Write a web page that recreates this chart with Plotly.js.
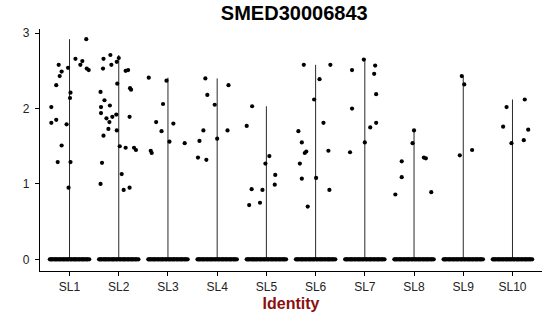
<!DOCTYPE html>
<html>
<head>
<meta charset="utf-8">
<script src="https://cdn.plot.ly/plotly-3.0.1.min.js"></script>
<style>html,body{margin:0;padding:0;background:#fff;}#chart{width:550px;height:316px;}</style>
</head>
<body>
<div id="chart"></div>
<script>
// Categories
const categories = ["SL1","SL2","SL3","SL4","SL5","SL6","SL7","SL8","SL9","SL10"];

// Non-zero expression values per identity with their jitter offsets
const SL1_vals = [2.02,1.81,1.85,1.29,2.31,2.58,2.43,2.49,1.51,1.79,2.54,0.95,2.21,2.14,1.29,2.66,2.58,2.63,2.92,2.53,2.51];
const SL1_jit  = [-0.37,-0.37,-0.27,-0.24,-0.27,-0.22,-0.20,-0.16,-0.16,-0.06,-0.03,-0.02,0.02,0.01,0.02,0.12,0.22,0.26,0.34,0.35,0.39];
const SL2_vals = [2.22,2.02,1.94,2.11,1.00,1.28,1.64,2.53,2.66,1.87,1.73,1.82,2.04,2.71,2.58,1.89,1.92,1.71,2.62,2.33,2.67,1.50,1.13,0.92,1.48,2.50,2.51,1.89,0.95,2.27,2.25,1.48,1.45];
const SL2_jit  = [-0.37,-0.36,-0.36,-0.29,-0.37,-0.34,-0.31,-0.32,-0.31,-0.25,-0.21,-0.19,-0.18,-0.17,-0.15,-0.13,-0.05,-0.04,-0.04,-0.03,0.00,0.02,0.06,0.10,0.14,0.14,0.19,0.22,0.22,0.23,0.25,0.31,0.35];
const SL3_vals = [2.41,1.44,1.41,1.82,1.70,2.06,2.37,1.56,1.80,1.54];
const SL3_jit  = [-0.39,-0.35,-0.33,-0.24,-0.13,-0.10,-0.03,0.03,0.11,0.34];
const SL4_vals = [1.35,1.57,1.71,2.40,1.32,2.18,2.05,1.60,1.71,2.31];
const SL4_jit  = [-0.39,-0.36,-0.28,-0.24,-0.22,-0.20,-0.05,0.00,0.21,0.23];
const SL5_vals = [1.77,2.03,0.72,0.93,0.75,0.92,1.27,1.37,1.12,0.99];
const SL5_jit  = [-0.40,-0.29,-0.35,-0.30,-0.13,-0.08,-0.02,0.06,0.18,0.17];
const SL6_vals = [1.70,1.55,1.27,1.07,2.58,1.41,1.43,0.70,2.12,1.08,2.39,1.81,1.44,0.92,2.58];
const SL6_jit  = [-0.35,-0.28,-0.32,-0.28,-0.24,-0.22,-0.19,-0.16,-0.03,0.01,0.08,0.16,0.26,0.28,0.30];
const SL7_vals = [1.42,2.00,2.51,2.65,1.55,1.75,2.46,2.57,2.19,1.81];
const SL7_jit  = [-0.30,-0.26,-0.26,-0.02,0.00,0.11,0.19,0.21,0.23,0.23];
const SL8_vals = [0.86,1.09,1.30,1.54,1.71,1.35,1.34,0.89];
const SL8_jit  = [-0.38,-0.25,-0.25,-0.03,0.00,0.20,0.24,0.35];
const SL9_vals = [1.38,2.43,2.32,1.45];
const SL9_jit  = [-0.07,-0.03,0.02,0.18];
const SL10_vals = [1.76,2.02,1.54,2.12,1.72,1.58];
const SL10_jit  = [-0.19,-0.12,-0.02,0.25,0.32,0.23];

// Jitter offsets of the many cells with zero expression (band at y = 0)
const zero_jit = [-0.40,-0.38,-0.36,-0.34,-0.31,-0.29,-0.27,-0.25,-0.22,-0.20,-0.18,-0.15,-0.13,-0.11,-0.09,-0.06,-0.04,-0.02,0.01,0.03,0.05,0.08,0.10,0.12,0.14,0.17,0.19,0.21,0.24,0.26,0.28,0.30,0.33,0.35,0.37,0.40];

const groupVals = [SL1_vals,SL2_vals,SL3_vals,SL4_vals,SL5_vals,SL6_vals,SL7_vals,SL8_vals,SL9_vals,SL10_vals];
const groupJit  = [SL1_jit,SL2_jit,SL3_jit,SL4_jit,SL5_jit,SL6_jit,SL7_jit,SL8_jit,SL9_jit,SL10_jit];

// violin outlines (degenerate: thin lines from 0 to group max)
const vx = [], vy = [];
groupVals.forEach((vals, i) => {
  vx.push(i + 1, i + 1, null);
  vy.push(0, Math.max(...vals), null);
});

const px = [], py = [];
groupVals.forEach((vals, i) => {
  vals.forEach((v, k) => { px.push(i + 1 + groupJit[i][k]); py.push(v); });
  zero_jit.forEach(j => { px.push(i + 1 + j); py.push(0); });
});

const traces = [
  {x: vx, y: vy, mode: 'lines', type: 'scatter', line: {color: '#2a2a2a', width: 1}, hoverinfo: 'skip', showlegend: false},
  {x: px, y: py, mode: 'markers', type: 'scatter', marker: {color: '#000', size: 4.2}, showlegend: false}
];

const layout = {
  width: 550, height: 316,
  margin: {l: 40, r: 8, t: 29, b: 45},
  paper_bgcolor: '#fff', plot_bgcolor: '#fff',
  showlegend: false,
  title: {text: '<b>SMED30006843</b>', x: 0.535, xanchor: 'center', y: 0.98, yanchor: 'top',
          font: {family: 'Liberation Sans, Arial, sans-serif', size: 20, color: '#000'}},
  xaxis: {
    range: [0.4, 10.6], tickvals: categories.map((c, i) => i + 1), ticktext: categories,
    showgrid: false, zeroline: false, showline: true, linecolor: '#000', linewidth: 1.2,
    ticks: 'outside', ticklen: 4, tickcolor: '#000', tickwidth: 1,
    tickfont: {family: 'Liberation Sans, Arial, sans-serif', size: 12, color: '#222'},
    title: {text: '<b>Identity</b>', standoff: 5,
            font: {family: 'Liberation Sans, Arial, sans-serif', size: 16, color: '#8B1010'}}
  },
  yaxis: {
    range: [-0.155, 3.055], tickvals: [0, 1, 2, 3],
    showgrid: false, zeroline: false, showline: true, linecolor: '#000', linewidth: 1.2,
    ticks: 'outside', ticklen: 4, tickcolor: '#000', tickwidth: 1, ticklabelstandoff: 3,
    tickfont: {family: 'Liberation Sans, Arial, sans-serif', size: 12, color: '#222'}
  }
};

Plotly.newPlot('chart', traces, layout, {staticPlot: true, displayModeBar: false});
</script>
</body>
</html>
